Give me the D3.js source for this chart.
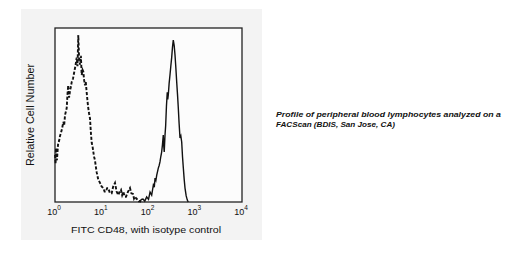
<!DOCTYPE html>
<html>
<head>
<meta charset="utf-8">
<script src="https://cdn.jsdelivr.net/npm/d3@7"></script>
<style>
  body { margin: 0; background: #fff; }
  svg text { font-family: "Liberation Sans", Arial, sans-serif; fill: #111; }
</style>
</head>
<body>
<svg id="chart" width="519" height="258"></svg>
<script>
// isotype control (dashed) - fluorescence and relative count
const isoX = [1.0, 1.03, 1.05, 1.08, 1.1, 1.16, 1.22, 1.28, 1.35, 1.41, 1.51, 1.57, 1.64, 1.71, 1.78, 1.85, 1.92, 2.0, 2.1, 2.18, 2.28, 2.43, 2.55, 2.68, 2.8, 2.91, 3.03, 3.15, 3.28, 3.43, 3.58, 3.72, 3.88, 4.03, 4.2, 4.39, 4.55, 4.76, 5.0, 5.15, 5.35, 5.61, 5.85, 6.1, 6.35, 6.59, 6.85, 7.16, 7.5, 7.8, 8.4, 9.18, 9.9, 10.8, 11.5, 12.3, 13.0, 13.8, 15.0, 16.3, 17.6, 19.2, 20.8, 22.6, 24.2, 25.8, 27.3, 28.9, 31.0, 33.0, 36.5, 40.2, 43.0, 46.6, 49.0, 51.4, 55.0, 59.6, 64.0, 69.2];
const isoY = [27, 22, 31, 25, 24, 33, 35, 38, 40, 42, 46, 44, 50, 52, 54, 62, 67, 60, 64, 66, 69, 71, 74, 77, 80, 83, 78, 96, 82, 79, 84, 73, 76, 75, 70, 67, 69, 63, 57, 54, 51, 48, 40, 34, 32, 29, 26, 24, 20, 17, 13, 11, 9, 8, 6, 6, 8, 8, 5, 5, 9, 11, 6, 4, 6, 7, 4, 6, 3, 3, 6, 8, 5, 4.6, 2, 3, 2, 1, 0.5, 0];

// CD48 stained (solid)
const cd48X = [60.3, 65.8, 71.0, 76.2, 83.2, 91.4, 100, 108, 117, 127, 133, 138, 144, 150, 156, 162, 169, 176, 183, 191, 199, 207, 212, 217, 225, 233, 242, 252, 258, 265, 276, 288, 300, 313, 326, 339, 354, 369, 385, 401, 417, 434, 452, 472, 492, 513, 534, 556, 580, 604, 640, 676, 708];
const cd48Y = [0, 0.6, 1.5, 1.7, 0.5, 2.9, 1.5, 5.7, 4, 9.8, 8.5, 13.8, 12.5, 15.5, 17.5, 19.5, 21, 23, 26, 28.7, 33, 38.5, 32, 28.7, 38, 44, 55, 63, 59, 61.5, 68, 73, 78, 83, 89, 93, 90, 84.5, 77, 69, 62, 54, 45, 36.8, 38, 34.5, 26, 19.5, 13, 8, 3.5, 1.1, 0];

const tickExp = ["0", "1", "2", "3", "4"];
const tickVals = [1, 10, 100, 1000, 10000];

const yTitle = "Relative Cell Number";
const xTitle = "FITC CD48, with isotype control";
const caption = ["Profile of peripheral blood lymphocytes analyzed on a", "FACScan (BDIS, San Jose, CA)"];

const svg = d3.select("#chart");
const box = { left: 55, right: 242, top: 28, bottom: 202 };

// light grey panel behind the plot
svg.append("rect")
  .attr("x", 21).attr("y", 9)
  .attr("width", 241).attr("height", 231)
  .attr("fill", "#f3f3f3");

const x = d3.scaleLog().domain([1, 10000]).range([box.left, box.right]);
const y = d3.scaleLinear().domain([0, 100]).range([box.bottom, box.top]);

svg.append("rect")
  .attr("x", box.left).attr("y", box.top)
  .attr("width", box.right - box.left).attr("height", box.bottom - box.top)
  .attr("fill", "#fcfcfc")
  .attr("stroke", "#222")
  .attr("stroke-width", 1.3);

const line = d3.line()
  .x(d => x(d[0]))
  .y(d => y(d[1]));

svg.append("path")
  .datum(d3.zip(isoX, isoY))
  .attr("d", line)
  .attr("fill", "none")
  .attr("stroke", "#111")
  .attr("stroke-width", 1.9)
  .attr("stroke-dasharray", "3.2,1.8");

svg.append("path")
  .datum(d3.zip(cd48X, cd48Y))
  .attr("d", line)
  .attr("fill", "none")
  .attr("stroke", "#111")
  .attr("stroke-width", 1.4);

// tick labels as 10 with superscript exponent
const ticks = svg.append("g").selectAll("text")
  .data(tickVals)
  .enter()
  .append("text")
  .attr("x", d => x(d) - 1)
  .attr("y", 214.5)
  .attr("text-anchor", "middle")
  .attr("font-size", "9px");
ticks.append("tspan").text("10");
ticks.append("tspan")
  .attr("dy", -4.5)
  .attr("font-size", "6.5px")
  .text((d, i) => tickExp[i]);

svg.append("text")
  .attr("x", 146)
  .attr("y", 233)
  .attr("text-anchor", "middle")
  .attr("font-size", "9px")
  .attr("textLength", 150)
  .attr("lengthAdjust", "spacingAndGlyphs")
  .text(xTitle);

svg.append("text")
  .attr("transform", "translate(33.5,115) rotate(-90)")
  .attr("text-anchor", "middle")
  .attr("font-size", "10.5px")
  .attr("textLength", 102)
  .attr("lengthAdjust", "spacingAndGlyphs")
  .text(yTitle);

svg.append("g").selectAll("text")
  .data(caption)
  .enter()
  .append("text")
  .attr("x", 276)
  .attr("y", (d, i) => 116.5 + i * 10)
  .attr("font-size", "7.2px")
  .attr("font-weight", "bold")
  .attr("font-style", "italic")
  .attr("textLength", (d, i) => i === 0 ? 225 : 119)
  .attr("lengthAdjust", "spacingAndGlyphs")
  .text(d => d);
</script>
</body>
</html>
